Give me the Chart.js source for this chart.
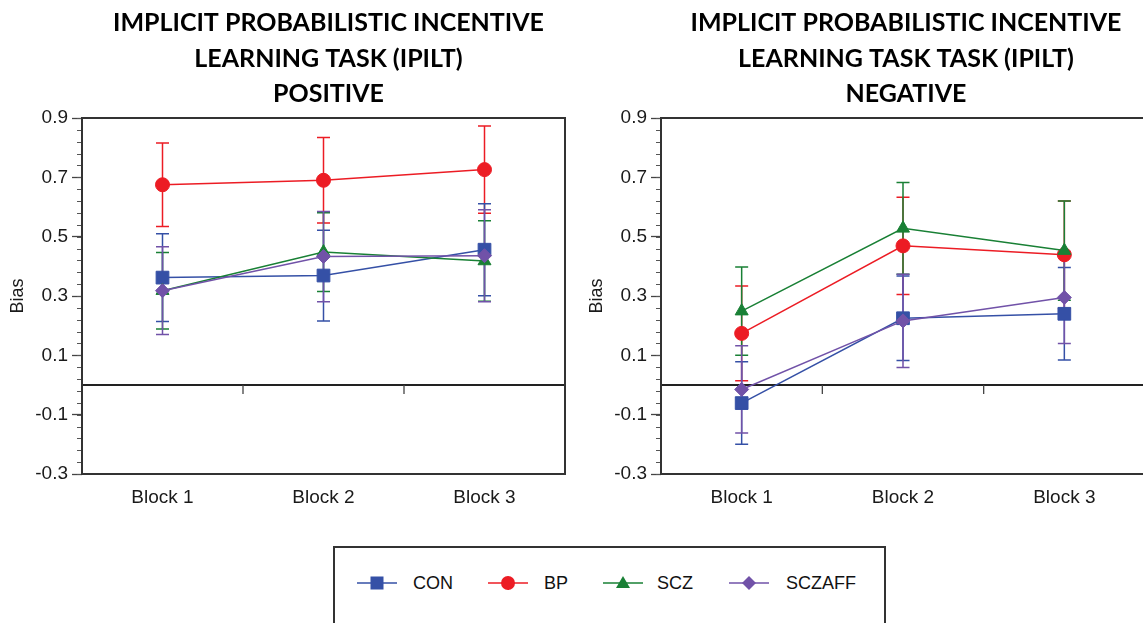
<!DOCTYPE html>
<html><head><meta charset="utf-8">
<script src="https://cdn.jsdelivr.net/npm/chart.js@4"></script>
<style>
html,body{margin:0;padding:0;background:#fff;overflow:hidden;width:1143px;height:623px;}
canvas{position:absolute;top:0;}
#c1{left:0;}
#c2{left:575px;}
#legendBox{position:absolute;left:333px;top:546px;width:553px;height:120px;border:2px solid #333;box-sizing:border-box;}
.lg{position:absolute;font-family:"Liberation Sans",Arial,sans-serif;font-size:18px;color:#111;line-height:20px;}
svg.lg{overflow:visible;}
</style></head>
<body>
<canvas id="c1" width="575" height="540"></canvas>
<canvas id="c2" width="580" height="540"></canvas>
<div id="legendBox"></div>
<div id="legendItems"></div>
<script>
const categories = ['Block 1', 'Block 2', 'Block 3'];
const seriesNames = ['CON', 'BP', 'SCZ', 'SCZAFF'];
const majorTicks = [0.9, 0.7, 0.5, 0.3, 0.1, -0.1, -0.3];

// Positive panel
const conPos = [0.362, 0.369, 0.456];
const conPosErr = [0.148, 0.153, 0.155];
const bpPos = [0.675, 0.690, 0.726];
const bpPosErr = [0.141, 0.144, 0.147];
const sczPos = [0.318, 0.448, 0.418];
const sczPosErr = [0.129, 0.133, 0.136];
const affPos = [0.318, 0.433, 0.436];
const affPosErr = [0.148, 0.152, 0.155];

// Negative panel
const conNeg = [-0.061, 0.225, 0.240];
const conNegErr = [0.139, 0.142, 0.156];
const bpNeg = [0.174, 0.469, 0.439];
const bpNegErr = [0.160, 0.164, 0.181];
const sczNeg = [0.249, 0.528, 0.453];
const sczNegErr = [0.149, 0.155, 0.167];
const affNeg = [-0.015, 0.216, 0.295];
const affNegErr = [0.147, 0.157, 0.155];

const titlePos = ['IMPLICIT PROBABILISTIC INCENTIVE', 'LEARNING TASK (IPILT)', 'POSITIVE'];
const titleNeg = ['IMPLICIT PROBABILISTIC INCENTIVE', 'LEARNING TASK TASK (IPILT)', 'NEGATIVE'];

const colors = { CON: '#3550A6', BP: '#EC1C24', SCZ: '#198035', SCZAFF: '#7152A8' };
const styles = { CON: ['rect', 9], BP: ['circle', 7], SCZ: ['triangle', 7.5], SCZAFF: ['rectRot', 7] };
const orders = { CON: 2, BP: 3, SCZ: 1, SCZAFF: 0 };
const FONT = '"Liberation Sans", Arial, sans-serif';

const minorTicks = [];
for (let k = 0; k <= 30; k++) { const v = -0.3 + k * 0.04; minorTicks.push(Math.round(v * 100) / 100); }

const decor = {
  id: 'decor',
  beforeDatasetsDraw(chart, args, opts) {
    const { ctx, chartArea: a, scales: { x, y } } = chart;
    ctx.save();
    ctx.strokeStyle = '#555'; ctx.lineWidth = 1;
    for (const v of minorTicks) {
      const py = Math.round(y.getPixelForValue(v)) + 0.5;
      ctx.beginPath(); ctx.moveTo(a.left - 5, py); ctx.lineTo(a.left, py); ctx.stroke();
    }
    const zy = y.getPixelForValue(0);
    ctx.strokeStyle = '#222'; ctx.lineWidth = 2;
    ctx.beginPath(); ctx.moveTo(a.left, zy); ctx.lineTo(a.right, zy); ctx.stroke();
    ctx.lineWidth = 1.3; ctx.strokeStyle = '#444';
    for (let i = 0; i < categories.length - 1; i++) {
      const px = x.getPixelForValue(i + 0.5);
      ctx.beginPath(); ctx.moveTo(px, zy); ctx.lineTo(px, zy + 9); ctx.stroke();
    }
    // error bars
    chart.data.datasets.slice().sort((p, q) => q.order - p.order).forEach(ds => {
      const di = chart.data.datasets.indexOf(ds);
      const meta = chart.getDatasetMeta(di);
      ctx.strokeStyle = ds.borderColor; ctx.lineWidth = 1.5;
      meta.data.forEach((pt, i) => {
        const t = y.getPixelForValue(ds.data[i] + ds.errors[i]);
        const b = y.getPixelForValue(ds.data[i] - ds.errors[i]);
        ctx.beginPath();
        ctx.moveTo(pt.x, t); ctx.lineTo(pt.x, b);
        ctx.moveTo(pt.x - 6.5, t); ctx.lineTo(pt.x + 6.5, t);
        ctx.moveTo(pt.x - 6.5, b); ctx.lineTo(pt.x + 6.5, b);
        ctx.stroke();
      });
    });
    ctx.restore();
  },
  afterDraw(chart, args, opts) {
    const { ctx, chartArea: a } = chart;
    ctx.save();
    ctx.strokeStyle = '#333'; ctx.lineWidth = 2;
    ctx.strokeRect(a.left, a.top, a.right - a.left, a.bottom - a.top);
    ctx.fillStyle = '#000';
    ctx.font = 'bold 25px Lato, "Liberation Sans", sans-serif';
    ctx.textAlign = 'center'; ctx.textBaseline = 'alphabetic';
    const cx = (a.left + a.right) / 2 + opts.titleShift;
    const ys = [31, 67, 102];
    opts.title.forEach((line, i) => ctx.fillText(line, cx, ys[i]));
    ctx.restore();
  }
};

function makeChart(id, sets, title, yWidth, titlePad, rightPad, shift) {
  const datasets = seriesNames.map((n, i) => ({
    label: n,
    data: sets[i][0],
    errors: sets[i][1],
    borderColor: colors[n],
    backgroundColor: colors[n],
    pointBackgroundColor: colors[n],
    pointBorderColor: colors[n],
    pointBorderWidth: 1,
    borderWidth: 1.5,
    pointStyle: styles[n][0],
    pointRadius: styles[n][1],
    pointHoverRadius: styles[n][1],
    order: orders[n],
    tension: 0,
    fill: false
  }));
  return new Chart(document.getElementById(id), {
    type: 'line',
    data: { labels: categories, datasets },
    options: {
      responsive: false,
      animation: false,
      events: [],
      layout: { padding: { left: 0, right: rightPad, top: 118, bottom: 32 } },
      plugins: {
        legend: { display: false },
        title: { display: false },
        tooltip: { enabled: false },
        decor: { title, titleShift: shift }
      },
      scales: {
        x: {
          type: 'category',
          offset: true,
          grid: { display: false, drawTicks: false },
          border: { display: false },
          ticks: { font: { size: 19, family: FONT }, color: '#1a1a1a', padding: 12 },
          afterFit: s => { s.height = 34; }
        },
        y: {
          min: -0.3, max: 0.9,
          afterBuildTicks: s => { s.ticks = majorTicks.map(v => ({ value: v })); },
          afterFit: s => { s.width = yWidth; },
          ticks: { font: { size: 19, family: FONT }, color: '#1a1a1a', padding: 4,
                   callback: v => Number(v).toFixed(1) },
          grid: { drawOnChartArea: false, tickLength: 10, tickColor: '#444', tickWidth: 1.3 },
          border: { display: false },
          title: { display: true, text: 'Bias', font: { size: 18, family: FONT }, color: '#1a1a1a',
                   padding: { top: titlePad, bottom: 0 } }
        }
      }
    },
    plugins: [decor]
  });
}

makeChart('c1', [[conPos, conPosErr], [bpPos, bpPosErr], [sczPos, sczPosErr], [affPos, affPosErr]],
  titlePos, 82, 7, 8, 5);
makeChart('c2', [[conNeg, conNegErr], [bpNeg, bpNegErr], [sczNeg, sczNegErr], [affNeg, affNegErr]],
  titleNeg, 86, 11, 9, 3);

// HTML legend
const legendLayout = [
  { name: 'CON', line: 357, text: 413 },
  { name: 'BP', line: 488, text: 544 },
  { name: 'SCZ', line: 603, text: 657 },
  { name: 'SCZAFF', line: 729, text: 786 }
];
const cy = 583;
const holder = document.getElementById('legendItems');
function marker(name, c) {
  const mx = 20, my = 10;
  if (name === 'CON') return `<rect x="${mx-6.5}" y="${my-6.5}" width="13" height="13" fill="${c}"/>`;
  if (name === 'BP') return `<circle cx="${mx}" cy="${my}" r="7" fill="${c}"/>`;
  if (name === 'SCZ') return `<polygon points="${mx},${my-7} ${mx+7},${my+5} ${mx-7},${my+5}" fill="${c}"/>`;
  return `<polygon points="${mx},${my-7} ${mx+7},${my} ${mx},${my+7} ${mx-7},${my}" fill="${c}"/>`;
}
legendLayout.forEach(it => {
  const c = colors[it.name];
  holder.insertAdjacentHTML('beforeend',
    `<svg class="lg" style="left:${it.line}px;top:${cy-10}px" width="40" height="20">` +
    `<line x1="0" y1="10" x2="40" y2="10" stroke="${c}" stroke-width="1.6"/>${marker(it.name, c)}</svg>` +
    `<div class="lg" style="left:${it.text}px;top:${cy-10}px">${it.name}</div>`);
});
</script>
</body></html>
